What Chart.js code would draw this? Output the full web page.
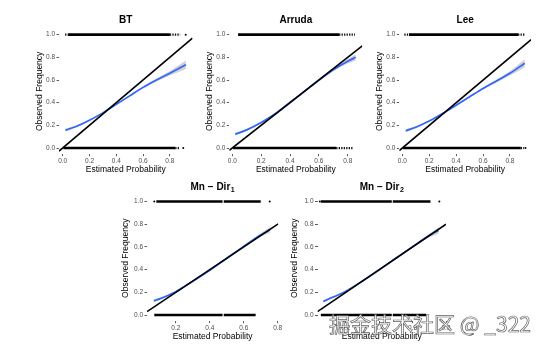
<!DOCTYPE html>
<html>
<head>
<meta charset="utf-8">
<script src="https://cdn.jsdelivr.net/npm/chart.js@4.4.1/dist/chart.umd.min.js"></script>
<style>
  html, body { margin: 0; padding: 0; background: #fff; }
  body { width: 554px; height: 351px; position: relative; overflow: hidden; }
  canvas { position: absolute; }
  #mark {
    position: absolute; left: 329px; top: 313px;
    font: 21px "Noto Sans CJK SC", sans-serif; line-height: 1; white-space: nowrap;
    color: rgba(255,255,255,0.9);
    -webkit-text-stroke: 0.7px rgba(70,70,70,0.85);
  }
</style>
</head>
<body>
<div id="mark">掘金技术社区 @ _322</div>
<script>
// panel titles (main text + subscript) and tick labels
var panelTitles = [['BT', ''], ['Arruda', ''], ['Lee', ''], ['Mn \u2212 Dir', '1'], ['Mn \u2212 Dir', '2']];
var probTicks = [0, 0.2, 0.4, 0.6, 0.8];
var freqTicks = [0, 0.2, 0.4, 0.6, 0.8, 1];

// smoothed calibration curves with confidence band
var btProb  = [0.02, 0.1, 0.2, 0.3, 0.4, 0.5, 0.6, 0.7, 0.8, 0.92];
var btFit   = [0.158, 0.19, 0.245, 0.31, 0.385, 0.46, 0.535, 0.60, 0.66, 0.735];
var btLower = [0.144, 0.181, 0.238, 0.304, 0.379, 0.453, 0.526, 0.587, 0.64, 0.697];
var btUpper = [0.172, 0.199, 0.252, 0.316, 0.391, 0.467, 0.544, 0.613, 0.68, 0.773];

var arProb  = [0.02, 0.1, 0.2, 0.3, 0.4, 0.5, 0.6, 0.7, 0.8, 0.855];
var arFit   = [0.122, 0.16, 0.225, 0.305, 0.402, 0.50, 0.598, 0.69, 0.765, 0.80];
var arLower = [0.110, 0.152, 0.219, 0.300, 0.397, 0.494, 0.590, 0.678, 0.745, 0.772];
var arUpper = [0.134, 0.168, 0.231, 0.310, 0.407, 0.506, 0.606, 0.702, 0.785, 0.828];

var leeProb  = [0.025, 0.1, 0.2, 0.3, 0.4, 0.5, 0.6, 0.7, 0.8, 0.91];
var leeFit   = [0.152, 0.183, 0.238, 0.305, 0.378, 0.452, 0.525, 0.592, 0.66, 0.748];
var leeLower = [0.139, 0.174, 0.231, 0.299, 0.372, 0.445, 0.516, 0.579, 0.64, 0.713];
var leeUpper = [0.165, 0.192, 0.245, 0.311, 0.384, 0.459, 0.534, 0.605, 0.68, 0.783];

var md1Prob  = [0.07, 0.1, 0.15, 0.2, 0.3, 0.4, 0.5, 0.6, 0.7, 0.755];
var md1Fit   = [0.125, 0.14, 0.17, 0.205, 0.298, 0.395, 0.5, 0.605, 0.705, 0.75];
var md1Lower = [0.112, 0.13, 0.162, 0.199, 0.293, 0.39, 0.494, 0.596, 0.689, 0.724];
var md1Upper = [0.138, 0.15, 0.178, 0.211, 0.303, 0.40, 0.506, 0.614, 0.721, 0.776];

var md2Prob  = [0.065, 0.1, 0.15, 0.2, 0.3, 0.4, 0.5, 0.6, 0.7, 0.755];
var md2Fit   = [0.12, 0.143, 0.175, 0.21, 0.3, 0.398, 0.5, 0.602, 0.7, 0.745];
var md2Lower = [0.107, 0.133, 0.167, 0.204, 0.295, 0.393, 0.494, 0.593, 0.684, 0.719];
var md2Upper = [0.133, 0.153, 0.183, 0.216, 0.305, 0.403, 0.506, 0.611, 0.716, 0.771];

// observed outcomes (rug of points at 1 and 0): dense runs, sparse runs, lone points
var btOneDense = [[0.04, 0.80]],  btOneSparse = [[0.018, 0.04], [0.80, 0.877]], btOneLone = [0.918];
var btZeroDense = [[0.005, 0.84]], btZeroSparse = [[0.84, 0.877]], btZeroLone = [0.90];
var arOneDense = [[0.04, 0.74]],  arOneSparse = [[0.74, 0.85]], arOneLone = [];
var arZeroDense = [[0.005, 0.72]], arZeroSparse = [[0.72, 0.84]], arZeroLone = [];
var leeOneDense = [[0.05, 0.86]], leeOneSparse = [[0.015, 0.05], [0.86, 0.91]], leeOneLone = [];
var leeZeroDense = [[0.005, 0.88]], leeZeroSparse = [[0.88, 0.905]], leeZeroLone = [0.915];
var md1OneDense = [[0.085, 0.475], [0.482, 0.70]], md1OneSparse = [], md1OneLone = [0.073, 0.753];
var md1ZeroDense = [[0.073, 0.475], [0.482, 0.67]], md1ZeroSparse = [], md1ZeroLone = [];
var md2OneDense = [[0.05, 0.475], [0.481, 0.707]], md2OneSparse = [], md2OneLone = [0.044, 0.76];
var md2ZeroDense = [[0.05, 0.475], [0.481, 0.68]], md2ZeroSparse = [], md2ZeroLone = [];

var panels = [
  {prob: btProb, fit: btFit, lo: btLower, hi: btUpper,
   one: [btOneDense, btOneSparse, btOneLone], zero: [btZeroDense, btZeroSparse, btZeroLone]},
  {prob: arProb, fit: arFit, lo: arLower, hi: arUpper,
   one: [arOneDense, arOneSparse, arOneLone], zero: [arZeroDense, arZeroSparse, arZeroLone]},
  {prob: leeProb, fit: leeFit, lo: leeLower, hi: leeUpper,
   one: [leeOneDense, leeOneSparse, leeOneLone], zero: [leeZeroDense, leeZeroSparse, leeZeroLone]},
  {prob: md1Prob, fit: md1Fit, lo: md1Lower, hi: md1Upper,
   one: [md1OneDense, md1OneSparse, md1OneLone], zero: [md1ZeroDense, md1ZeroSparse, md1ZeroLone]},
  {prob: md2Prob, fit: md2Fit, lo: md2Lower, hi: md2Upper,
   one: [md2OneDense, md2OneSparse, md2OneLone], zero: [md2ZeroDense, md2ZeroSparse, md2ZeroLone]}
];

// where each plot area sits on the page, and its axis ranges
var boxes = [
  {left: 59,    right: 192.5, top: 29,    bottom: 153.7, xMin: -0.0276, xMax: 0.969, yAxis: 24},
  {left: 229.3, right: 362.3, top: 29,    bottom: 153.7, xMin: -0.0208, xMax: 0.901, yAxis: 24},
  {left: 399.3, right: 531.1, top: 29,    bottom: 153.7, xMin: -0.0223, xMax: 0.957, yAxis: 24},
  {left: 147,   right: 278.2, top: 195.8, bottom: 320.7, xMin: 0.03,    xMax: 0.803, yAxis: 26.5},
  {left: 317.5, right: 446,   top: 195.8, bottom: 320.7, xMin: 0.03,    xMax: 0.80,  yAxis: 28}
];

Chart.defaults.font.family = '"Liberation Sans", Arial, sans-serif';

var panelTitle = {
  id: 'panelTitle',
  afterDraw: function(chart, args, opts) {
    var ctx = chart.ctx, area = chart.chartArea;
    ctx.save();
    ctx.fillStyle = '#000';
    ctx.textBaseline = 'middle';
    ctx.textAlign = 'left';
    ctx.font = 'bold 10px "Liberation Sans", Arial, sans-serif';
    var w1 = ctx.measureText(opts.main).width;
    ctx.font = 'bold 7px "Liberation Sans", Arial, sans-serif';
    var w2 = opts.sub ? ctx.measureText(opts.sub).width + 0.5 : 0;
    var x = (area.left + area.right) / 2 - (w1 + w2) / 2;
    var y = area.top - 8.5;
    ctx.font = 'bold 10px "Liberation Sans", Arial, sans-serif';
    ctx.fillText(opts.main, x, y);
    if (opts.sub) {
      ctx.font = 'bold 7px "Liberation Sans", Arial, sans-serif';
      ctx.fillText(opts.sub, x + w1 + 0.5, y + 3);
    }
    ctx.restore();
  }
};

function pick(ticks) {
  return function(scale) {
    scale.ticks = ticks.filter(function(v) { return v >= scale.min - 1e-9 && v <= scale.max + 1e-9; })
                       .map(function(v) { return {value: v}; });
  };
}

function rugSets(runs, level) {
  var sets = [];
  runs[0].forEach(function(r) {
    sets.push({type: 'line', data: [{x: r[0], y: level}, {x: r[1], y: level}],
      borderColor: '#000', borderWidth: 2.6, pointRadius: 0, borderCapStyle: 'butt'});
  });
  runs[1].forEach(function(r) {
    sets.push({type: 'line', data: [{x: r[0], y: level}, {x: r[1], y: level}],
      borderColor: '#111', borderWidth: 2.2, pointRadius: 0, borderDash: [1.3, 1.2]});
  });
  if (runs[2].length) {
    sets.push({type: 'scatter', data: runs[2].map(function(v) { return {x: v, y: level}; }),
      pointRadius: 1, pointBackgroundColor: '#000', pointBorderWidth: 0});
  }
  return sets;
}

function makePanel(i) {
  var p = panels[i], b = boxes[i];
  var cl = Math.round(b.left - b.yAxis);
  var ct = Math.round(b.top - 22);
  var cw = Math.round(b.right + 6) - cl;
  var ch = Math.round(b.bottom + 21) - ct;
  var yW = b.left - cl, padTop = b.top - ct, padRight = cl + cw - b.right, xH = ct + ch - b.bottom;

  var canvas = document.createElement('canvas');
  canvas.width = cw; canvas.height = ch;
  canvas.style.left = cl + 'px'; canvas.style.top = ct + 'px';
  document.body.appendChild(canvas);

  var pts = function(ys) { return p.prob.map(function(x, k) { return {x: x, y: ys[k]}; }); };

  var datasets = [
    {type: 'line', data: [{x: b.xMin, y: b.xMin}, {x: b.xMax, y: b.xMax}],
     borderColor: '#000', borderWidth: 1.6, pointRadius: 0},
    {type: 'line', data: pts(p.fit), borderColor: '#3366FF', borderWidth: 1.7,
     pointRadius: 0, cubicInterpolationMode: 'monotone'},
    {type: 'line', data: pts(p.hi), borderWidth: 0, pointRadius: 0, cubicInterpolationMode: 'monotone',
     fill: '+1', backgroundColor: 'rgba(153,153,153,0.45)'},
    {type: 'line', data: pts(p.lo), borderWidth: 0, pointRadius: 0, cubicInterpolationMode: 'monotone'}
  ].concat(rugSets(p.one, 1), rugSets(p.zero, 0));

  var tickGrid = {display: true, drawOnChartArea: false, drawTicks: true, tickLength: 2.5,
                  color: '#333', lineWidth: 0.8};

  new Chart(canvas, {
    type: 'scatter',
    data: {datasets: datasets},
    plugins: [panelTitle],
    options: {
      responsive: false,
      animation: false,
      events: [],
      layout: {padding: {left: 0, top: padTop, right: padRight, bottom: 0}},
      plugins: {
        legend: {display: false},
        tooltip: {enabled: false},
        panelTitle: {main: panelTitles[i][0], sub: panelTitles[i][1]}
      },
      scales: {
        x: {
          type: 'linear', min: b.xMin, max: b.xMax,
          afterBuildTicks: pick(probTicks),
          afterFit: function(s) { s.height = xH; },
          grid: tickGrid, border: {display: false},
          ticks: {color: '#4d4d4d', font: {size: 6.5}, padding: 1,
                  callback: function(v) { return v.toFixed(1); }},
          title: {display: true, text: 'Estimated Probability', color: '#000',
                  font: {size: 8.5}, padding: {top: 0, bottom: 0}}
        },
        y: {
          type: 'linear', min: -0.05, max: 1.05,
          afterBuildTicks: pick(freqTicks),
          afterFit: function(s) { s.width = yW; },
          grid: tickGrid, border: {display: false},
          ticks: {color: '#4d4d4d', font: {size: 6.5}, padding: 1.5,
                  callback: function(v) { return v.toFixed(1); }},
          title: {display: true, text: 'Observed Frequency', color: '#000',
                  font: {size: 8.5}, padding: {top: 0, bottom: 0}}
        }
      }
    }
  });
}

for (var i = 0; i < panels.length; i++) makePanel(i);
document.body.appendChild(document.getElementById('mark'));
</script>
</body>
</html>
